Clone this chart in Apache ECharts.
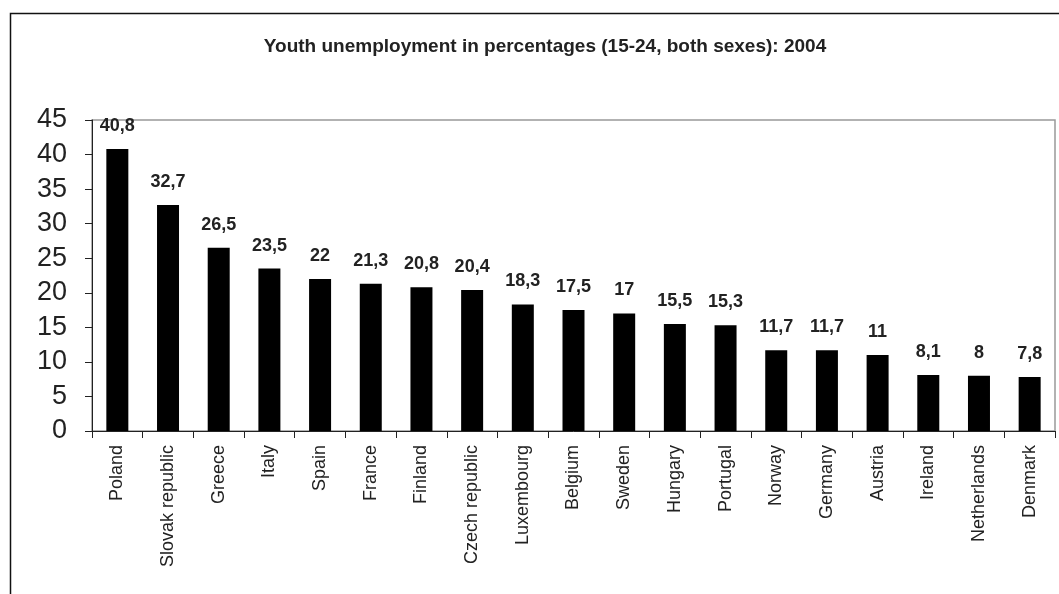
<!DOCTYPE html>
<html><head><meta charset="utf-8">
<script src="https://cdn.jsdelivr.net/npm/echarts@6/dist/echarts.min.js"></script>
<style>html,body{margin:0;padding:0;background:#fff}#c{width:1059px;height:594px}</style>
</head><body><div id="c"></div>
<script>
const categories = ["Poland","Slovak republic","Greece","Italy","Spain","France","Finland","Czech republic","Luxembourg","Belgium","Sweden","Hungary","Portugal","Norway","Germany","Austria","Ireland","Netherlands","Denmark"];
const values = [40.8,32.7,26.5,23.5,22,21.3,20.8,20.4,18.3,17.5,17,15.5,15.3,11.7,11.7,11,8.1,8,7.8];
const yTicks = [0,5,10,15,20,25,30,35,40,45];
const titleText = "Youth unemployment in percentages (15-24, both sexes): 2004";

const chart = echarts.init(document.getElementById('c'));
chart.setOption({
  animation: false,
  backgroundColor: '#fff',
  title: {
    text: titleText, left: 540, top: 32, textAlign: 'center',
    textStyle: {fontFamily: 'Liberation Sans, Arial', fontSize: 19, fontWeight: 'bold', color: '#222'}
  },
  graphic: [{
    type: 'rect', shape: {x: 10.5, y: 13.5, width: 1070, height: 620},
    style: {fill: null, stroke: '#111', lineWidth: 1.5}, silent: true, z: -1
  }],
  grid: {left: 92, top: 120, right: 4, bottom: 163, show: true, borderColor: '#999', borderWidth: 1.5, backgroundColor: 'transparent'},
  xAxis: {
    type: 'category', data: categories,
    axisLine: {lineStyle: {color: '#222', width: 1}},
    axisTick: {show: true, alignWithLabel: false, length: 7, lineStyle: {color: '#222'}},
    axisLabel: {rotate: 90, margin: 14, fontFamily: 'Liberation Sans, Arial', fontSize: 18, color: '#222', interval: 0}
  },
  yAxis: {
    type: 'value', min: 0, max: 45, interval: 5,
    axisLine: {show: true, lineStyle: {color: '#222', width: 1}},
    axisTick: {show: true, length: 7, lineStyle: {color: '#222'}},
    splitLine: {show: false},
    axisLabel: {fontFamily: 'Liberation Sans, Arial', fontSize: 27, color: '#222', margin: 25,
      formatter: v => yTicks.includes(v) ? String(v) : ''}
  },
  series: [{
    type: 'bar', data: values, barWidth: 22,
    itemStyle: {color: '#000'},
    label: {show: true, position: 'top', distance: 14,
      fontFamily: 'Liberation Sans, Arial', fontSize: 18, fontWeight: 'bold', color: '#222',
      formatter: p => String(p.value).replace('.', ',')}
  }]
});
</script></body></html>
